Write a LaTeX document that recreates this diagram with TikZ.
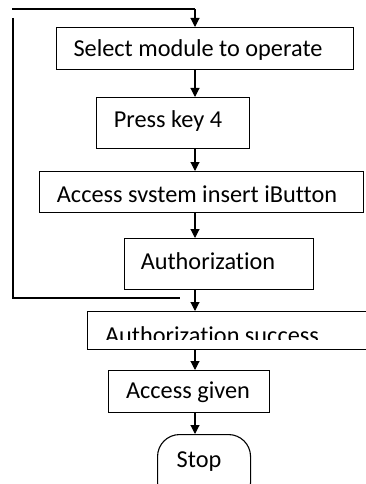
\documentclass[tikz,border=0pt]{standalone}
\usepackage{fontspec}
\setmainfont{Carlito}[Ligatures=NoCommon]
\usetikzlibrary{arrows.meta}
\begin{document}
\begin{tikzpicture}[x=1pt,y=-1pt,
  box/.style={draw,line width=1.1pt,inner sep=0pt,anchor=north west},
  txt/.style={font=\fontsize{24.3}{28}\selectfont,inner sep=0pt},
  arr/.style={line width=1.1pt,-{Triangle[width=9pt,length=9pt]}},
  ln/.style={line width=1.1pt}]
\useasboundingbox (0,0) rectangle (366,484);
\clip (0,0) rectangle (366,484);
\coordinate (ax) at (195,0);
\node[box,minimum width=297pt,minimum height=42pt] (b1) at (56,27) {};
\node[box,minimum width=153pt,minimum height=51pt] (b2) at (96,97) {};
\node[box,minimum width=324pt,minimum height=41pt] (b3) at (39,171) {};
\node[box,minimum width=189pt,minimum height=51pt] (b4) at (124,238) {};
\node[box,minimum width=290pt,minimum height=38pt] (b5) at (87,311) {};
\node[box,minimum width=161pt,minimum height=42pt] (b6) at (108,370) {};
\node[box,rounded corners=22pt,minimum width=93pt,minimum height=70pt] (b7) at (157,434) {};
\node[txt] (t1) at (198,50) {Select module to operate};
\node[txt] (t2) at (168,121) {Press key 4};
\node[txt] (t3) at (197,194) {Access svstem insert iButton};
\node[txt] (t4) at (208,261) {Authorization};
\begin{scope}
\clip (87,311) rectangle (366,339);
\node[txt] (t5) at (212,335) {Authorization success};
\end{scope}
\node[txt] (t6) at (188,392) {Access given};
\node[txt] (t7) at (199,462) {Stop};
\coordinate (c1) at (12,9);
\coordinate (c2) at (13,18);
\coordinate (c3) at (13,298);
\coordinate (c4) at (180,298);
\draw[ln] (c1) -- (c1 -| ax);
\draw[arr] (c1 -| ax) -- (b1.north -| ax);
\draw[ln] (c2) -- (c3) -- (c4);
\draw[arr] (b1.south -| ax) -- (b2.north -| ax);
\draw[arr] (b2.south -| ax) -- (b3.north -| ax);
\draw[arr] (b3.south -| ax) -- (b4.north -| ax);
\draw[arr] (b4.south -| ax) -- (b5.north -| ax);
\draw[arr] (b5.south -| ax) -- (b6.north -| ax);
\draw[arr] (b6.south -| ax) -- (b7.north -| ax);
\end{tikzpicture}
\end{document}
